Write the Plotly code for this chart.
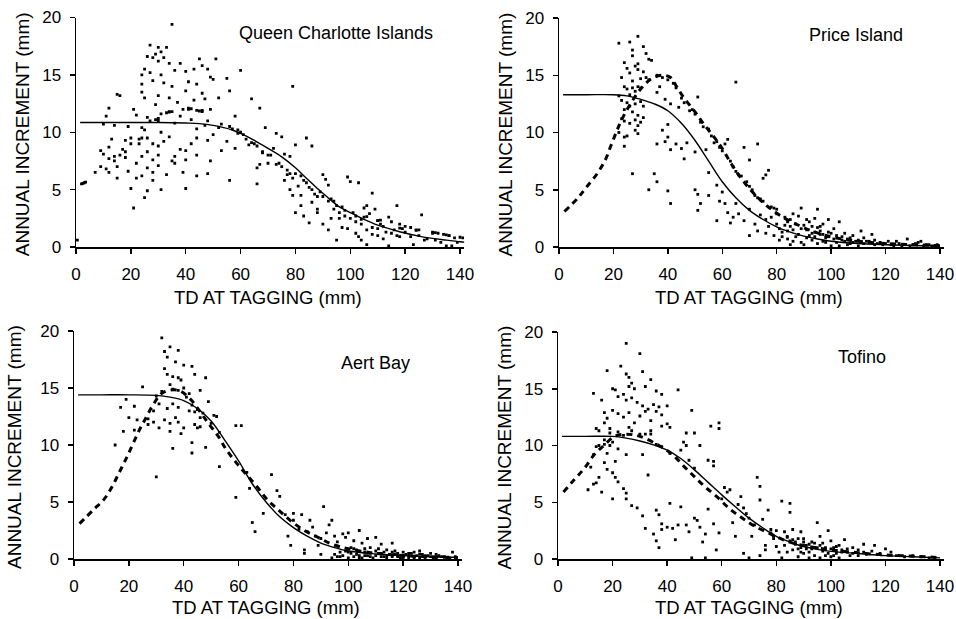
import plotly.graph_objects as go

W, H = 956, 619

# ---------------- data ----------------
qci_points = [
(35,19.4),(27,17.6),(30,17.4),(33,17.4),(31,17.0),(29,16.8),(26,16.6),(28,16.5),(32,16.5),(30,16.2),
(34,16.0),(38,16.0),(45,16.4),(51,16.4),(46,15.8),(43,15.5),(48,15.5),(25,15.5),(24,15.0),(27,15.2),
(31,15.0),(40,15.3),(36,15.4),(49,14.8),(55,14.7),(60,15.4),(79,14.0),(24,14.2),(28,14.5),(32,14.3),
(35,14.0),(41,14.4),(44,14.2),(50,14.6),(24,13.5),(30,13.2),(34,13.0),(40,13.6),(46,13.4),(52,13.0),
(56,13.6),(16,13.2),(15,13.3),(25,13.0),(37,12.6),(43,12.8),(47,12.9),(64,12.9),(67,12.1),(12,12.1),
(21,12.0),(29,12.4),(34,11.8),(39,12.0),(41,12.1),(44,11.9),(46,11.8),(49,12.0),(58,11.4),(11,11.4),
(22,11.5),(26,11.3),(31,11.6),(35,11.8),(38,11.4),(42,11.1),(48,11.0),(53,10.7),(56,10.5),(10,10.7),
(14,10.6),(19,10.5),(24,10.4),(25,10.2),(27,11.0),(30,11.2),(36,10.8),(44,10.3),(47,10.6),(52,10.4),
(60,10.0),(59,9.9),(64,9.1),(65,9.0),(69,10.4),(73,9.9),(75,9.6),(80,8.9),(86,8.8),(84,9.5),
(9,8.4),(10,8.1),(12,8.7),(13,9.4),(17,8.5),(18,9.3),(20,9.5),(23,9.0),(26,9.5),(28,9.0),
(30,8.8),(32,9.2),(34,9.6),(38,8.5),(40,8.4),(42,9.0),(44,9.5),(48,9.3),(50,9.8),(55,9.2),
(58,8.6),(12,7.7),(14,7.5),(16,8.0),(18,7.8),(22,7.3),(24,7.9),(26,8.3),(28,7.6),(30,8.0),
(35,7.5),(36,7.9),(40,7.6),(44,8.0),(49,7.5),(53,8.4),(63,8.9),(68,8.2),(70,8.0),(72,8.6),
(76,8.1),(78,7.9),(9,7.0),(11,6.8),(15,7.0),(19,6.6),(22,6.0),(24,6.2),(26,6.9),(28,6.5),
(30,7.1),(33,6.3),(36,7.3),(39,6.5),(44,6.2),(48,6.4),(56,5.8),(66,5.5),(66,6.9),(67,7.2),
(70,7.3),(73,7.2),(77,6.7),(78,6.4),(82,6.2),(7,6.5),(12,6.5),(15,6.0),(20,5.1),(26,4.9),
(28,5.8),(31,5.0),(25,4.3),(21,3.4),(40,5.1),(76,5.8),(78,5.0),(79,4.5),(81,5.3),(83,5.8),
(84,5.6),(85,5.2),(86,5.0),(87,4.6),(88,4.4),(89,4.8),(90,6.3),(91,5.9),(92,5.4),(93,4.2),
(94,4.0),(95,3.6),(96,3.0),(97,3.5),(98,3.2),(99,6.1),(100,5.7),(103,5.6),(101,3.0),(102,2.7),
(104,2.4),(105,3.4),(106,3.6),(107,2.9),(108,4.7),(109,3.3),(110,2.3),(111,2.0),(112,1.8),(114,2.6),
(115,2.2),(116,1.5),(117,3.6),(118,2.0),(120,1.8),(122,1.7),(124,1.5),(126,2.8),(130,1.3),(132,1.2),
(134,1.1),(136,1.0),(138,0.8),(82,3.6),(83,2.7),(85,2.1),(88,3.3),(90,2.0),(92,1.5),(93,2.5),
(95,0.6),(97,1.7),(99,1.6),(102,1.2),(103,0.9),(104,0.6),(106,0.2),(108,1.1),(110,1.0),(112,0.7),
(114,0.1),(118,0.9),(123,0.2),(128,0.7),(135,0.1),(137,0.1),(80,3.0),(82,4.5),(86,3.9),(88,3.0),
(90,4.4),(92,4.0),(94,3.3),(96,2.5),(98,2.7),(100,2.5),(102,2.2),(104,2.0),(106,1.5),(108,1.7),
(110,1.6),(113,1.3),(115,1.2),(117,1.0),(120,1.3),(122,0.9),(125,1.0),(127,0.6),(131,0.6),(133,0.4),
(139,0.4),(57,10.3),(59,10.2),(61,9.8),(62,9.4),(66,8.8),(68,8.3),(71,8.0),(74,7.3),(75,7.0),
(77,6.3),(79,6.0),(80,6.4),(0.5,0.6),
(2,5.5),(2.5,5.55),(3,5.6),(3.5,5.65),
(105,2.6),(106,2.65),(110,2.3),(111,2.35),(118,1.65),(119,1.6),(124,1.45),(125,1.5),
(130,1.2),(131,1.25),(135,1.05),(136,1.0),(140,0.85),(141,0.8),
(29,11.1),(30,11.0),(33,11.7),(34,11.75),(41,12.0),(42,12.05),(45,11.85),(46,11.9),
(23,9.4),(24,9.5),(31,10.0),(20,9.0),(18,8.3),(14,7.9),
]

price_points = [
(22,17.8),(26,17.9),(29,18.4),(31,17.5),(27,17.2),(27,16.7),(32,16.9),(33,16.4),(34,16.3),(29,16.0),
(24,16.1),(25,15.6),(28,15.8),(29,15.5),(26,15.2),(31,15.3),(23,14.8),(27,14.5),(30,14.7),(32,14.8),
(33,14.6),(24,14.0),(25,13.8),(27,13.9),(28,13.6),(29,14.0),(30,13.9),(26,13.3),(22,13.2),(23,12.8),
(25,12.6),(26,12.3),(28,12.5),(30,12.7),(31,12.3),(24,12.0),(27,11.8),(29,11.5),(23,11.2),(24,11.0),
(26,10.8),(28,11.1),(29,10.6),(30,10.9),(31,11.3),(28,10.2),(29,9.9),(25,9.7),(24,9.6),(24,8.8),
(22,10.0),(27,6.4),(36,15.0),(37,14.0),(38,14.8),(40,14.6),(42,14.3),(43,13.9),(45,13.0),(46,12.6),
(44,12.2),(41,12.5),(39,12.9),(36,13.5),(48,11.9),(50,11.6),(51,13.1),(49,12.0),(52,10.9),(53,10.5),
(55,10.3),(56,9.7),(58,9.2),(59,8.7),(60,8.4),(61,9.0),(62,9.4),(57,9.1),(54,8.5),(50,8.3),
(47,9.1),(45,8.6),(43,9.0),(41,8.5),(40,9.6),(40,10.7),(38,10.2),(39,9.2),(36,9.0),(35,6.4),
(36,5.7),(33,5.0),(40,4.9),(41,3.8),(50,5.0),(51,4.6),(52,3.8),(51,3.2),(55,4.5),(58,2.3),
(60,4.8),(61,3.8),(62,3.0),(63,2.1),(64,2.6),(63,7.5),(64,7.0),(65,6.6),(66,6.3),(67,6.2),
(68,8.7),(69,5.7),(70,5.3),(71,5.0),(72,4.5),(73,4.3),(74,4.2),(75,4.0),(73,9.0),(70,7.6),
(75,6.0),(76,6.3),(77,6.7),(65,14.4),(46,7.7),(55,6.5),(58,5.4),(59,4.0),(65,3.8),(66,2.9),
(68,2.3),(70,3.3),(72,2.0),(74,2.8),(76,2.4),(78,3.5),(79,3.4),(80,3.3),(77,1.8),(76,1.2),
(73,1.4),(70,1.0),(80,2.0),(81,1.6),(82,1.3),(83,2.6),(84,2.2),(85,1.8),(86,1.5),(82,0.9),
(84,0.7),(86,0.5),(88,1.1),(89,3.4),(90,1.9),(91,1.5),(92,1.0),(93,0.6),(94,1.3),(95,3.3),
(96,1.8),(97,1.1),(98,0.8),(99,2.4),(100,1.2),(101,0.7),(102,0.4),(103,2.2),(104,0.9),(105,0.5),
(106,0.2),(107,0.8),(108,0.4),(110,0.6),(111,1.4),(112,0.3),(114,0.5),(115,1.1),(116,0.2),(118,0.4),
(120,0.3),(122,0.2),(124,0.5),(126,0.1),(128,0.7),(130,0.2),(132,0.4),(134,0.1),(136,0.2),(138,0.1),
(79,1.0),(81,0.6),(83,1.9),(85,2.4),(87,2.0),(89,1.6),(90,0.2),(91,2.4),(93,1.8),(94,0.9),
(95,0.3),(96,1.4),(97,2.0),(98,0.4),(99,0.9),(100,0.1),(101,1.6),(102,1.0),(103,0.1),(104,0.6),
(105,1.2),(106,0.7),(107,0.3),(108,1.0),(109,0.5),(110,0.1),(112,0.8),(113,0.5),(116,0.6),(117,0.3),
(119,0.2),(121,0.5),(123,0.1),(125,0.3),(127,0.2),(129,0.1),(131,0.3),(133,0.5),(135,0.2),(137,0.1),
(139,0.2),(78,2.6),(80,2.9),(84,1.4),(86,2.9),(88,2.7),(92,2.2),(94,2.5),(96,1.1),(85,0.2),
(87,0.9),(89,0.4),(91,0.8),(93,1.2),(95,1.7),(97,0.5),(99,1.3),
]

aert_points = [
(32,19.4),(35,18.6),(33,18.2),(38,18.3),(34,17.7),(37,17.3),(40,17.0),(43,16.9),(33,16.7),(34,16.2),
(36,16.0),(38,15.9),(39,15.7),(35,15.3),(44,16.2),(48,15.9),(36,14.9),(38,14.8),(40,15.0),(42,14.5),
(46,14.8),(25,15.1),(32,14.7),(30,14.3),(41,14.2),(43,13.5),(45,13.1),(47,12.8),(49,13.8),(31,13.6),
(29,13.0),(34,13.2),(36,13.6),(38,13.3),(42,13.0),(44,12.9),(46,12.4),(51,12.6),(52,12.5),(19,14.0),
(17,13.3),(22,13.4),(20,12.4),(23,12.2),(27,12.3),(29,12.0),(33,12.2),(35,11.9),(37,12.4),(38,12.0),
(40,11.5),(44,11.8),(46,11.6),(50,11.9),(53,11.1),(59,11.7),(61,11.7),(18,11.2),(22,11.3),(27,11.8),
(31,11.5),(35,11.2),(39,11.0),(43,10.2),(45,11.5),(48,9.8),(36,9.7),(43,9.3),(15,10.0),(30,7.2),
(53,8.1),(59,5.4),(64,6.2),(63,7.6),(65,3.2),(66,2.4),(69,4.0),(72,7.4),(74,6.0),(75,5.5),
(77,3.9),(78,2.0),(79,1.2),(80,4.0),(80,3.4),(82,2.6),(83,3.9),(84,0.8),(84,0.5),(85,2.4),
(86,3.4),(87,2.8),(88,2.0),(89,1.2),(90,0.4),(91,4.6),(92,2.3),(93,3.0),(94,3.4),(95,2.0),
(90,1.8),(96,1.5),(97,0.2),(98,2.2),(99,1.9),(100,2.3),(101,1.0),(102,1.6),(103,0.4),(104,2.5),
(105,1.4),(106,0.6),(107,1.8),(108,1.0),(110,1.9),(111,0.5),(112,1.3),(113,0.2),(114,0.8),(116,1.4),
(117,0.4),(118,0.2),(120,0.6),(122,0.3),(124,0.6),(126,0.7),(128,0.3),(130,0.2),(132,0.4),(134,0.2),
(138,0.6),(136,0.1),(98,0.3),(99,0.7),(100,0.1),(101,0.5),(102,0.2),(103,0.8),(104,0.3),(105,0.1),
(106,0.9),(107,0.3),(108,0.5),(109,0.1),(110,0.3),(111,0.9),(112,0.2),(113,0.6),(114,0.1),(115,0.4),
(116,0.2),(117,0.7),(118,0.5),(119,0.1),(120,0.2),(121,0.4),(122,0.1),(123,0.5),(124,0.2),(125,0.3),
(126,0.1),(127,0.4),(128,0.1),(129,0.3),(130,0.5),(131,0.1),(133,0.3),(135,0.2),(137,0.1),(139,0.2),
(94,0.1),(95,0.4),(96,0.2),(97,0.6),(100,0.6),(102,0.9),(104,0.1),(106,0.3),(108,0.2),(110,0.7),
(112,0.5),(114,0.3),(116,0.6),(118,0.3),(120,0.1),(122,0.5),(124,0.1),(126,0.4),(128,0.2),(132,0.1),
]

tofino_points = [
(25,19.0),(30,18.1),(18,16.6),(23,17.0),(25,16.3),(26,16.0),(31,16.5),(34,15.8),(27,15.5),(13,14.6),
(20,15.0),(21,14.9),(24,14.5),(26,15.2),(28,15.0),(32,15.2),(36,14.8),(38,14.5),(44,14.9),(16,14.0),
(22,14.3),(25,14.0),(27,14.2),(29,13.8),(31,13.5),(33,13.2),(35,13.6),(37,13.4),(40,13.5),(17,12.9),
(18,12.4),(20,13.1),(22,12.8),(24,12.5),(26,12.9),(28,12.0),(30,12.6),(32,13.0),(34,12.2),(36,13.0),
(38,12.7),(49,13.1),(17,12.0),(19,11.5),(22,11.2),(26,11.6),(27,11.3),(30,11.0),(34,11.3),(38,11.7),
(40,11.9),(56,11.7),(59,12.0),(59,11.5),(14,11.5),(15,11.3),(17,10.5),(19,11.1),(20,10.3),(24,10.9),
(32,11.0),(34,11.0),(41,11.6),(47,11.1),(50,11.1),(15,10.0),(17,10.1),(19,10.0),(14,9.9),(13,9.2),
(18,9.3),(21,8.6),(22,9.7),(25,9.2),(31,9.2),(36,10.1),(38,9.9),(41,9.3),(46,10.3),(47,10.0),
(52,10.0),(55,8.7),(57,8.6),(57,8.2),(45,9.6),(48,8.7),(50,8.0),(12,8.1),(15,7.2),(17,8.5),
(18,7.9),(20,7.6),(21,7.2),(22,6.8),(24,6.2),(25,5.8),(14,6.7),(13,6.6),(11,6.1),(16,5.9),
(20,5.3),(25,5.3),(27,4.7),(29,4.5),(31,3.8),(33,7.4),(32,2.7),(35,2.2),(36,1.6),(37,1.0),
(36,4.3),(37,3.9),(38,3.1),(38,2.6),(40,2.8),(41,4.9),(42,2.7),(43,1.7),(44,3.0),(45,4.6),
(47,3.0),(48,2.4),(50,3.6),(51,3.4),(52,2.8),(53,1.5),(54,2.2),(55,4.4),(57,3.1),(58,0.8),
(59,2.3),(49,0.1),(54,0.1),(60,5.3),(61,6.3),(62,5.9),(63,6.1),(64,3.2),(65,2.0),(66,4.8),
(67,5.5),(68,4.5),(69,4.0),(70,3.6),(71,2.0),(72,3.0),(73,7.2),(74,6.4),(74,5.2),(75,3.5),
(76,1.2),(77,4.3),(78,2.6),(79,1.8),(80,1.1),(81,0.6),(82,5.1),(83,2.4),(84,2.0),(85,4.9),
(85,4.1),(86,2.6),(87,1.5),(88,0.9),(89,2.4),(90,1.8),(91,1.2),(92,0.6),(93,1.5),(94,1.0),
(95,3.2),(96,2.0),(97,1.4),(98,0.9),(99,2.5),(100,1.6),(101,1.0),(102,0.5),(103,1.2),(104,0.8),
(105,1.7),(106,0.6),(107,0.3),(108,1.0),(110,0.8),(112,1.3),(113,0.4),(115,0.7),(116,1.2),(118,0.5),
(120,0.9),(122,0.6),(124,0.3),(127,0.2),(130,0.3),(133,0.2),(136,0.1),(138,0.1),(78,2.3),(79,2.0),
(80,2.5),(76,0.8),(74,0.3),(70,0.1),(68,0.5),(82,0.1),(84,0.6),(86,0.8),(88,0.2),(90,0.5),
(92,0.1),(94,0.3),(96,0.1),(98,0.3),(100,0.2),(95,1.0),(97,0.7),(99,0.5),(101,0.3),(103,0.1),
(83,1.2),(85,1.6),(87,1.3),(89,0.6),(91,0.9),(93,0.9),(89,1.0),(84,1.9),(86,1.7),(88,1.8),
(90,1.5),(92,1.3),(94,1.4),(96,1.2),(98,1.0),(100,0.9),(102,1.1),(104,0.6),(106,0.9),(108,0.5),
(110,0.3),(112,0.6),
]

# fitted curves (solid) and dashed growth curves
qci_fit_x = [1.5, 10, 20, 30, 40, 45, 50, 57, 60, 65, 70, 75, 80, 84, 88, 91.4, 96, 100, 105, 110, 118, 125, 130, 135, 140, 142]
qci_fit_y = [10.85, 10.85, 10.85, 10.85, 10.8, 10.75, 10.6, 10.2, 9.9, 9.3, 8.6, 7.85, 6.9, 6.0, 5.1, 4.4, 3.5, 3.0, 2.4, 1.9, 1.33, 0.95, 0.75, 0.6, 0.46, 0.42]

price_fit_x = [1.5, 10, 20, 25, 30, 35, 40, 45, 50, 55, 60, 65, 70, 75, 80, 85, 90, 95, 100, 110, 120, 130, 140]
price_fit_y = [13.3, 13.3, 13.3, 13.2, 12.9, 12.5, 11.9, 10.8, 9.3, 7.5, 5.7, 4.3, 3.2, 2.4, 1.75, 1.3, 0.95, 0.7, 0.5, 0.3, 0.2, 0.13, 0.1]
price_dash_x = [2, 7, 10, 14, 17, 19, 21, 23, 26, 30, 34, 38, 41, 43, 46, 50, 53, 57, 60, 63, 66, 70, 74, 78, 83, 88, 93, 98, 104, 110, 120, 130, 140]
price_dash_y = [3.1, 4.3, 5.2, 6.4, 7.6, 8.8, 10.0, 11.1, 12.4, 13.8, 14.7, 15.0, 14.8, 14.1, 13.0, 11.8, 10.8, 9.6, 8.6, 7.4, 6.3, 5.1, 4.1, 3.3, 2.5, 1.9, 1.4, 1.0, 0.7, 0.5, 0.3, 0.2, 0.12]

aert_fit_x = [1.5, 10, 20, 30, 35, 40, 45, 50, 55, 60, 65, 70, 75, 80, 85, 90, 95, 100, 110, 120, 130, 140]
aert_fit_y = [14.4, 14.4, 14.4, 14.35, 14.2, 13.9, 13.2, 12.1, 10.4, 8.6, 6.6, 5.0, 3.7, 2.75, 2.0, 1.4, 1.0, 0.7, 0.45, 0.3, 0.2, 0.15]
aert_dash_x = [2, 7, 11, 14, 16.5, 19, 21.5, 24, 26.5, 29, 32.5, 38, 42.5, 46, 49, 52.5, 55.5, 59, 62.5, 66.5, 70.5, 75, 79, 84, 89, 94, 100, 110, 120, 130, 140]
aert_dash_y = [3.1, 4.3, 5.25, 6.4, 7.6, 8.8, 10.1, 11.4, 12.5, 13.6, 14.6, 14.8, 14.0, 12.9, 11.9, 10.8, 9.6, 8.5, 7.5, 6.4, 5.2, 4.2, 3.35, 2.5, 1.9, 1.3, 0.9, 0.5, 0.3, 0.2, 0.12]

tofino_fit_x = [1.5, 10, 20, 25, 30, 35, 40, 45, 50, 55, 60, 65, 70, 75, 80, 85, 90, 95, 100, 110, 120, 130, 140]
tofino_fit_y = [10.8, 10.8, 10.8, 10.65, 10.4, 10.05, 9.6, 8.85, 7.85, 6.75, 5.65, 4.6, 3.6, 2.75, 2.0, 1.5, 1.1, 0.85, 0.67, 0.48, 0.3, 0.2, 0.1]
tofino_dash_x = [2, 6, 9.7, 13.3, 16.8, 20.7, 25, 30, 37, 42, 46.4, 49.8, 53.7, 58.6, 63, 67.6, 72, 78, 84, 92, 100, 110, 120, 130, 140]
tofino_dash_y = [5.9, 7.0, 8.0, 9.2, 10.0, 10.8, 11.0, 10.8, 10.0, 9.2, 8.1, 7.3, 6.4, 5.4, 4.4, 3.6, 2.9, 2.2, 1.55, 1.1, 0.8, 0.55, 0.35, 0.25, 0.12]

panel_names = ["Queen Charlotte Islands", "Price Island", "Aert Bay", "Tofino"]
x_ticks = [0, 20, 40, 60, 80, 100, 120, 140]
y_ticks = [0, 5, 10, 15, 20]
x_title = "TD AT TAGGING (mm)"
y_title = "ANNUAL INCREMENT (mm)"

# ---------------- layout geometry (window pixels) ----------------
XMAX = 141.5
# (x of value 0, px per unit, y of value 0, y of value 20)
geom = [
    (76, 2.743, 247, 17.5),
    (559, 2.721, 247, 18),
    (74, 2.743, 559, 331),
    (558, 2.729, 559, 332),
]
label_pos = [(237, 33), (807, 35), (339, 363), (836, 357)]
ytitle_x = [22, 505, 14, 504]
xtitle_y = [297, 297, 607, 607]

panels = [
    (qci_points, qci_fit_x, qci_fit_y, None, None),
    (price_points, price_fit_x, price_fit_y, price_dash_x, price_dash_y),
    (aert_points, aert_fit_x, aert_fit_y, aert_dash_x, aert_dash_y),
    (tofino_points, tofino_fit_x, tofino_fit_y, tofino_dash_x, tofino_dash_y),
]


def fx_(px):
    return px / W


def fy_(py):
    return 1 - py / H


FONT = "Liberation Sans, Arial, sans-serif"
fig = go.Figure()
layout = dict(width=W, height=H, margin=dict(l=0, r=0, t=0, b=0, autoexpand=False),
              paper_bgcolor="white", plot_bgcolor="white", showlegend=False,
              font=dict(family=FONT, color="black"))
annotations = []

for i, (pts, fx, fy, dx, dy) in enumerate(panels):
    n = "" if i == 0 else str(i + 1)
    xa, ya = "x" + n, "y" + n
    px0, ppu, py0, py20 = geom[i]
    xd = [fx_(px0), fx_(px0 + XMAX * ppu)]
    yd = [fy_(py0), fy_(py20)]
    fig.add_trace(go.Scatter(x=[p[0] for p in pts], y=[p[1] for p in pts], mode="markers",
                             xaxis=xa, yaxis=ya,
                             marker=dict(symbol="square", size=2.8, color="black", line=dict(width=0))))
    if dx is not None:
        fig.add_trace(go.Scatter(x=dx, y=dy, mode="lines", xaxis=xa, yaxis=ya, line_shape="spline",
                                 line=dict(color="black", width=3, dash="6px,5px")))
    fig.add_trace(go.Scatter(x=fx, y=fy, mode="lines", xaxis=xa, yaxis=ya, line_shape="spline",
                             line=dict(color="black", width=1.4)))
    axcommon = dict(showgrid=False, zeroline=False, showline=True, linecolor="black", linewidth=1.5,
                    ticks="outside", ticklen=5, tickwidth=1.5, tickcolor="black", automargin=False,
                    ticklabeloverflow="allow",
                    tickfont=dict(family=FONT, size=17, color="black"), fixedrange=True)
    layout["xaxis" + n] = dict(domain=xd, range=[0, XMAX], tickvals=x_ticks, anchor=ya,
                               ticklabelstandoff=6, **axcommon)
    layout["yaxis" + n] = dict(domain=yd, range=[0, 20], tickvals=y_ticks, anchor=xa,
                               ticklabelstandoff=5, **axcommon)
    lx, ly = label_pos[i]
    annotations.append(dict(text=panel_names[i], x=fx_(lx), y=fy_(ly), xref="paper", yref="paper",
                            xanchor="left", yanchor="middle", showarrow=False,
                            font=dict(family=FONT, size=18, color="black")))
    annotations.append(dict(text=y_title, x=fx_(ytitle_x[i]), y=fy_((py0 + py20) / 2 + 2),
                            xref="paper", yref="paper", textangle=-90, xanchor="center", yanchor="middle",
                            showarrow=False, font=dict(family=FONT, size=19, color="black")))
    annotations.append(dict(text=x_title, x=fx_(px0 + 70 * ppu), y=fy_(xtitle_y[i]),
                            xref="paper", yref="paper", xanchor="center", yanchor="middle",
                            showarrow=False, font=dict(family=FONT, size=18.5, color="black")))

layout["annotations"] = annotations
fig.update_layout(**layout)
# remove the page's default 8px body margin so the figure fills the window exactly
fig.write_html("out.html",
               config={"displayModeBar": False, "staticPlot": True},
               post_script="document.body.style.margin='0';document.documentElement.style.overflow='hidden';")
